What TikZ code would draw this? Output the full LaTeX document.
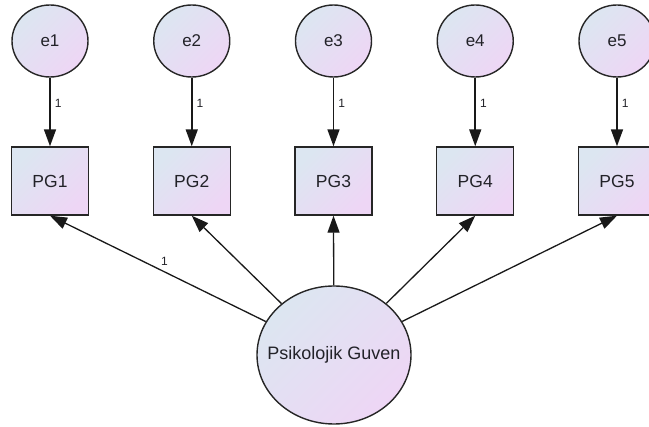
\documentclass[tikz,border=0pt]{standalone}
\usepackage{fontspec}
\setmainfont{Liberation Sans}
\usetikzlibrary{shapes.geometric,arrows.meta}

\definecolor{fillA}{RGB}{220,230,241}
\definecolor{fillB}{RGB}{238,214,245}
\definecolor{txt}{RGB}{34,34,40}

\tikzset{
  shaded/.style={draw=black!85, line width=1.4pt, shading=axis,
    top color=fillA, bottom color=fillB, shading angle=45, text=txt},
  errvar/.style={shaded, ellipse, minimum width=76pt, minimum height=72pt,
    inner sep=0pt, font=\fontsize{17}{17}\selectfont},
  obsvar/.style={shaded, rectangle, minimum width=77pt, minimum height=68pt,
    inner sep=0pt, font=\fontsize{17.5}{17.5}\selectfont},
  latvar/.style={shaded, ellipse, minimum width=154pt, minimum height=138pt,
    inner sep=0pt, font=\fontsize{18}{18}\selectfont},
  residarrow/.style={draw=black!90, line width=1.6pt,
    -{Triangle[length=17pt,width=12pt]}},
  loading/.style={draw=black!90, line width=1.3pt,
    -{Triangle[length=17pt,width=12pt]}},
  wt/.style={font=\fontsize{12}{12}\selectfont, text=txt, inner sep=1pt}
}

\begin{document}
\begin{tikzpicture}[x=1pt, y=-1pt]
  \useasboundingbox (0,0) rectangle (649,427);

  % error terms and indicators
  \foreach \i/\x in {1/50, 2/191.75, 3/333.5, 4/475.25, 5/617} {
    \node[errvar] (e\i) at (\x,41) {e\i};
    \node[obsvar] (PG\i) at (\x,181) {PG\i};
    \draw[residarrow] (e\i) -- node[wt, pos=0.38, right=3pt] {1} (PG\i);
  }

  % latent factor (zero-width label box keeps the ellipse at its set size)
  \node[latvar] (F) at (334,355) {\makebox[0pt]{Psikolojik Guven}};

  % factor loadings
  \draw[loading] (F) -- node[wt, pos=0.47, above=5pt] {1} (PG1.south);
  \foreach \i in {2,3,4,5} {
    \draw[loading] (F) -- (PG\i.south);
  }
\end{tikzpicture}
\end{document}
